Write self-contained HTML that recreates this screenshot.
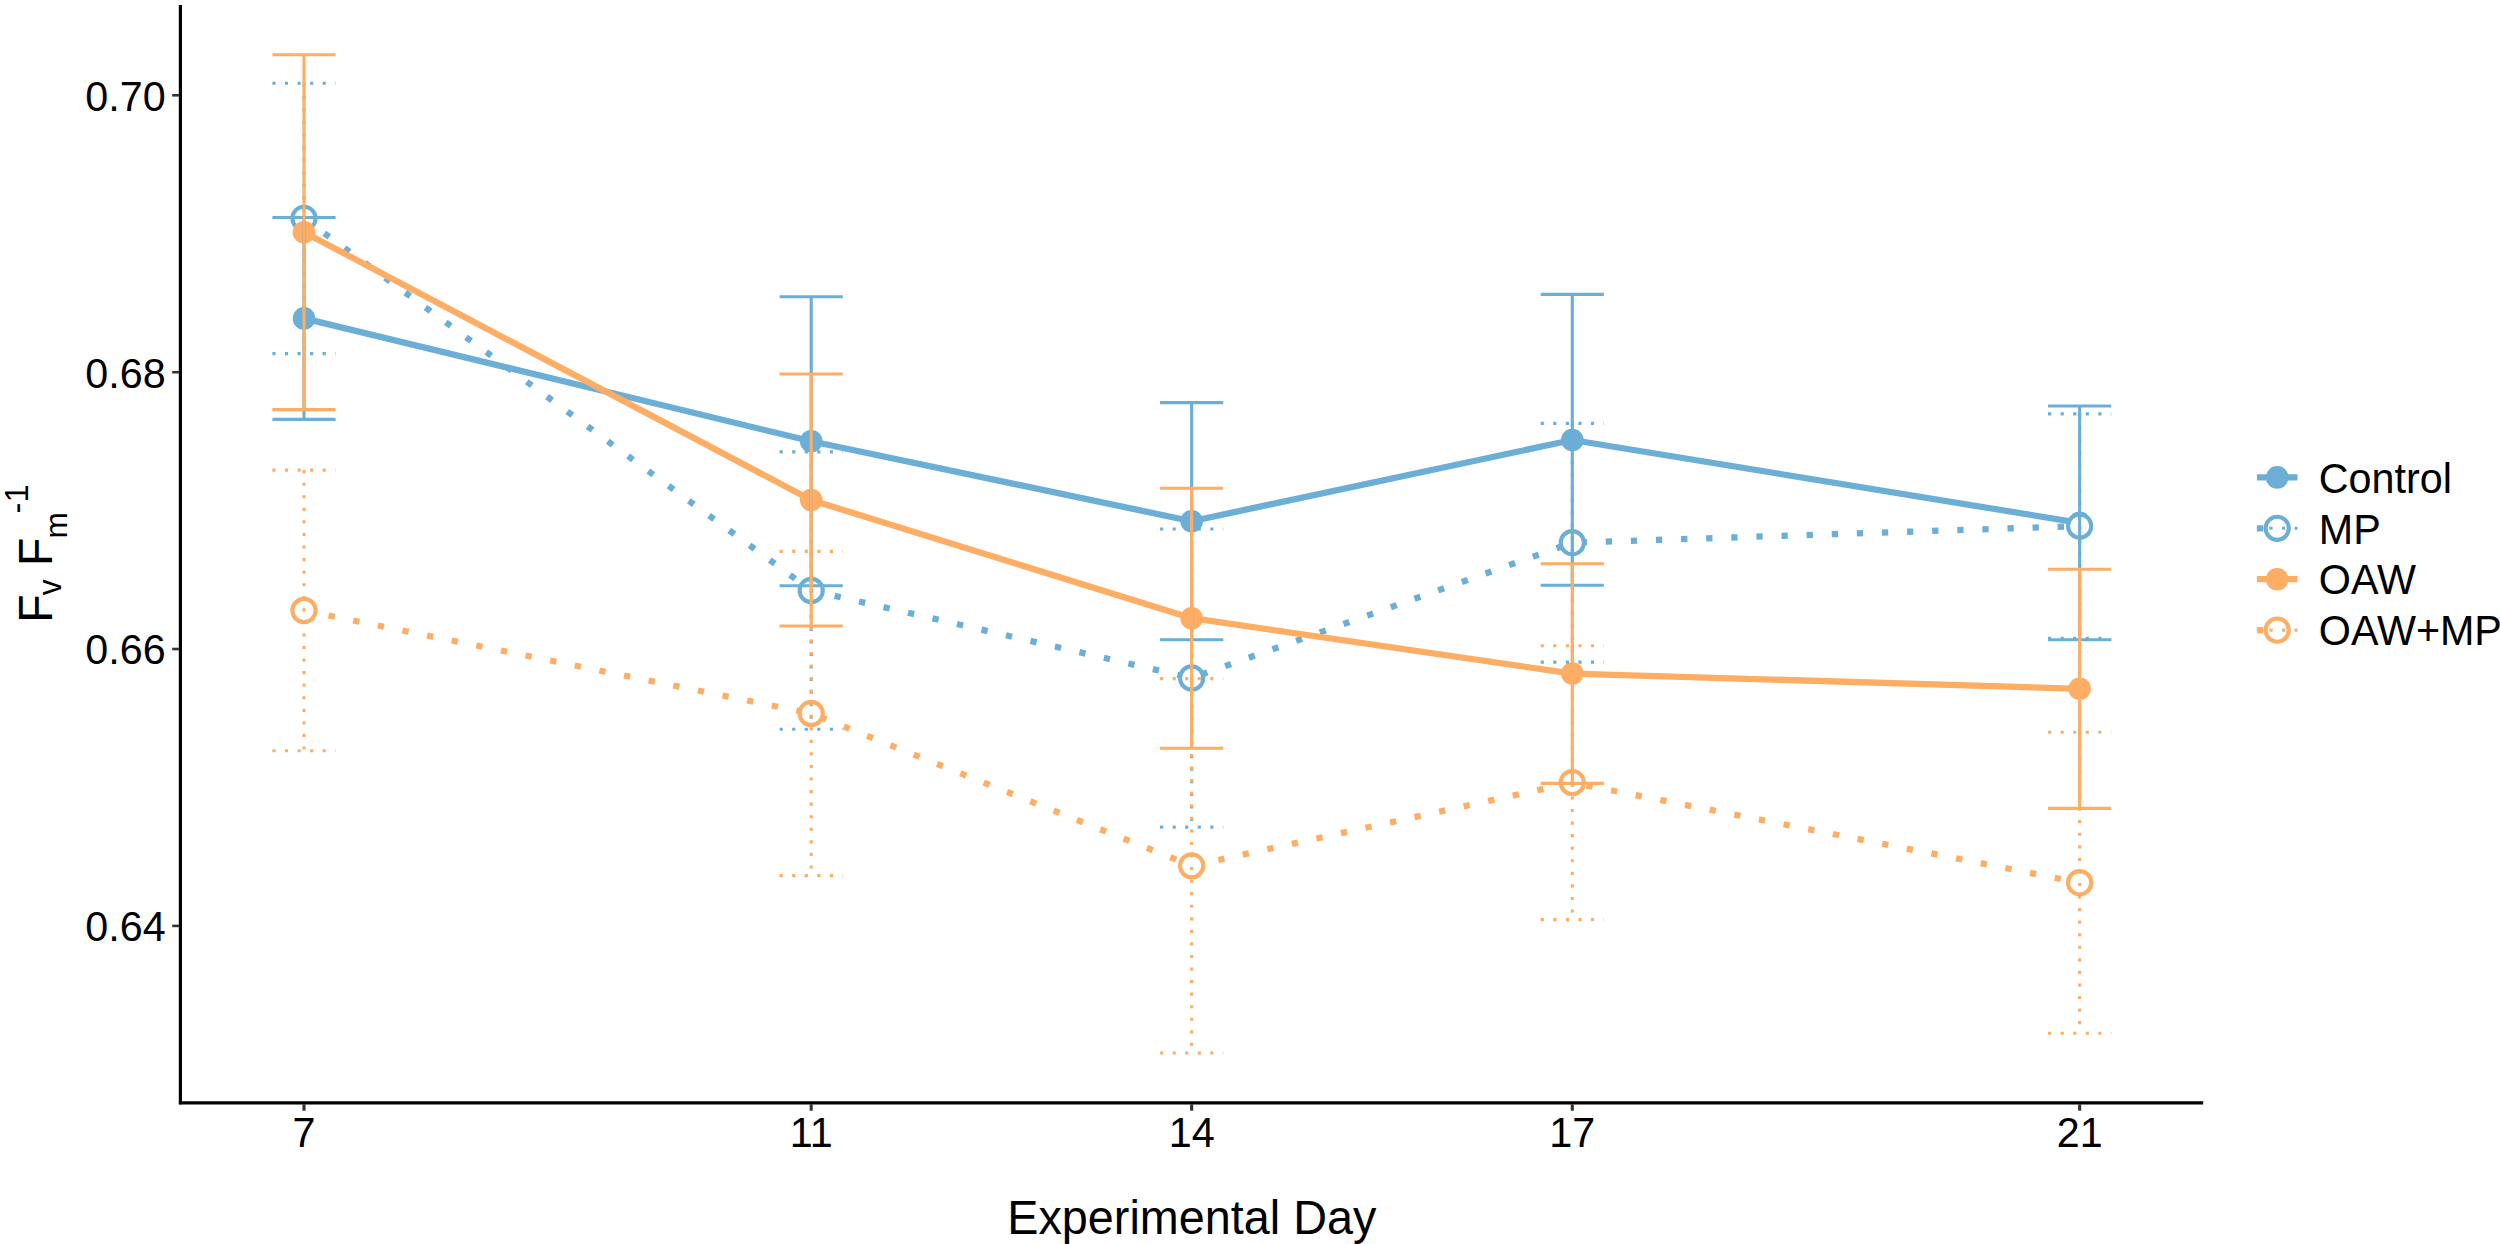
<!DOCTYPE html>
<html lang="en"><head><meta charset="utf-8"><title>Fv/Fm by Experimental Day</title>
<style>html,body{margin:0;padding:0;background:#fff}svg{display:block}text{font-family:"Liberation Sans",Arial,Helvetica,sans-serif;fill:#000}</style></head><body>
<svg width="2500" height="1244" viewBox="0 0 2500 1244">
<rect width="2500" height="1244" fill="#fff"/>
<g fill="none" stroke-width="6.28" stroke-linejoin="round">
<polyline points="304.00,318.4 811.20,441.3 1191.65,521.2 1572.30,440.0 2079.65,522.9" stroke="#6BAED6"/>
<polyline points="304.00,218.3 811.20,590.5 1191.65,678.0 1572.30,542.7 2079.65,526.1" stroke="#6BAED6" stroke-dasharray="6.28 18.84"/>
<polyline points="304.00,232.2 811.20,500.0 1191.65,618.2 1572.30,673.6 2079.65,688.8" stroke="#FDAD64"/>
<polyline points="304.00,610.5 811.20,713.5 1191.65,865.8 1572.30,782.6 2079.65,882.7" stroke="#FDAD64" stroke-dasharray="6.28 18.84"/>
</g>
<g>
<circle cx="304.00" cy="318.4" r="11.3" fill="#6BAED6"/>
<circle cx="304.00" cy="218.3" r="11.6" fill="#fff" stroke="#6BAED6" stroke-width="4.1"/>
<circle cx="304.00" cy="232.2" r="11.3" fill="#FDAD64"/>
<circle cx="304.00" cy="610.5" r="11.6" fill="#fff" stroke="#FDAD64" stroke-width="4.1"/>
<circle cx="811.20" cy="441.3" r="11.3" fill="#6BAED6"/>
<circle cx="811.20" cy="590.5" r="11.6" fill="#fff" stroke="#6BAED6" stroke-width="4.1"/>
<circle cx="811.20" cy="500.0" r="11.3" fill="#FDAD64"/>
<circle cx="811.20" cy="713.5" r="11.6" fill="#fff" stroke="#FDAD64" stroke-width="4.1"/>
<circle cx="1191.65" cy="521.2" r="11.3" fill="#6BAED6"/>
<circle cx="1191.65" cy="678.0" r="11.6" fill="#fff" stroke="#6BAED6" stroke-width="4.1"/>
<circle cx="1191.65" cy="618.2" r="11.3" fill="#FDAD64"/>
<circle cx="1191.65" cy="865.8" r="11.6" fill="#fff" stroke="#FDAD64" stroke-width="4.1"/>
<circle cx="1572.30" cy="440.0" r="11.3" fill="#6BAED6"/>
<circle cx="1572.30" cy="542.7" r="11.6" fill="#fff" stroke="#6BAED6" stroke-width="4.1"/>
<circle cx="1572.30" cy="673.6" r="11.3" fill="#FDAD64"/>
<circle cx="1572.30" cy="782.6" r="11.6" fill="#fff" stroke="#FDAD64" stroke-width="4.1"/>
<circle cx="2079.65" cy="522.9" r="11.3" fill="#6BAED6"/>
<circle cx="2079.65" cy="526.1" r="11.6" fill="#fff" stroke="#6BAED6" stroke-width="4.1"/>
<circle cx="2079.65" cy="688.8" r="11.3" fill="#FDAD64"/>
<circle cx="2079.65" cy="882.7" r="11.6" fill="#fff" stroke="#FDAD64" stroke-width="4.1"/>
</g>
<g fill="none" stroke-width="3.14">
<path d="M272.40 217.5H335.60M304.00 217.5V419.4M272.40 419.4H335.60" stroke="#6BAED6"/>
<path d="M779.60 296.8H842.80M811.20 296.8V585.7M779.60 585.7H842.80" stroke="#6BAED6"/>
<path d="M1160.05 402.6H1223.25M1191.65 402.6V639.8M1160.05 639.8H1223.25" stroke="#6BAED6"/>
<path d="M1540.70 294.4H1603.90M1572.30 294.4V585.3M1540.70 585.3H1603.90" stroke="#6BAED6"/>
<path d="M2048.05 406.0H2111.25M2079.65 406.0V639.7M2048.05 639.7H2111.25" stroke="#6BAED6"/>
<path d="M272.40 83.3H335.60M304.00 83.3V353.6M272.40 353.6H335.60" stroke="#6BAED6" stroke-dasharray="3.14 9.42"/>
<path d="M779.60 451.9H842.80M811.20 451.9V729.3M779.60 729.3H842.80" stroke="#6BAED6" stroke-dasharray="3.14 9.42"/>
<path d="M1160.05 529.0H1223.25M1191.65 529.0V827.1M1160.05 827.1H1223.25" stroke="#6BAED6" stroke-dasharray="3.14 9.42"/>
<path d="M1540.70 423.4H1603.90M1572.30 423.4V662.1M1540.70 662.1H1603.90" stroke="#6BAED6" stroke-dasharray="3.14 9.42"/>
<path d="M2048.05 413.9H2111.25M2079.65 413.9V638.3M2048.05 638.3H2111.25" stroke="#6BAED6" stroke-dasharray="3.14 9.42"/>
<path d="M272.40 54.7H335.60M304.00 54.7V409.6M272.40 409.6H335.60" stroke="#FDAD64"/>
<path d="M779.60 374.0H842.80M811.20 374.0V626.0M779.60 626.0H842.80" stroke="#FDAD64"/>
<path d="M1160.05 488.2H1223.25M1191.65 488.2V748.3M1160.05 748.3H1223.25" stroke="#FDAD64"/>
<path d="M1540.70 563.7H1603.90M1572.30 563.7V783.4M1540.70 783.4H1603.90" stroke="#FDAD64"/>
<path d="M2048.05 569.2H2111.25M2079.65 569.2V808.4M2048.05 808.4H2111.25" stroke="#FDAD64"/>
<path d="M272.40 470.1H335.60M304.00 470.1V750.8M272.40 750.8H335.60" stroke="#FDAD64" stroke-dasharray="3.14 9.42"/>
<path d="M779.60 551.4H842.80M811.20 551.4V875.6M779.60 875.6H842.80" stroke="#FDAD64" stroke-dasharray="3.14 9.42"/>
<path d="M1160.05 678.6H1223.25M1191.65 678.6V1053.0M1160.05 1053.0H1223.25" stroke="#FDAD64" stroke-dasharray="3.14 9.42"/>
<path d="M1540.70 645.7H1603.90M1572.30 645.7V919.6M1540.70 919.6H1603.90" stroke="#FDAD64" stroke-dasharray="3.14 9.42"/>
<path d="M2048.05 732.2H2111.25M2079.65 732.2V1033.3M2048.05 1033.3H2111.25" stroke="#FDAD64" stroke-dasharray="3.14 9.42"/>
</g>
<g stroke="#000" stroke-width="3.2" fill="none"><path d="M180.4 5V1104.30"/><path d="M178.90 1102.8H2203.2"/></g>
<g stroke="#333" stroke-width="3.1">
<path d="M172.2 95.3H178.90" stroke-width="2.6"/>
<path d="M172.2 372.2H178.90" stroke-width="2.6"/>
<path d="M172.2 649.0H178.90" stroke-width="2.6"/>
<path d="M172.2 925.9H178.90" stroke-width="2.6"/>
<path d="M304.00 1104.30V1110.7"/>
<path d="M811.20 1104.30V1110.7"/>
<path d="M1191.65 1104.30V1110.7"/>
<path d="M1572.30 1104.30V1110.7"/>
<path d="M2079.65 1104.30V1110.7"/>
</g>
<text transform="translate(165.6 110.6) scale(1 1.045)" font-size="41.3" text-anchor="end">0.70</text>
<text transform="translate(165.6 387.5) scale(1 1.045)" font-size="41.3" text-anchor="end">0.68</text>
<text transform="translate(165.6 664.3) scale(1 1.045)" font-size="41.3" text-anchor="end">0.66</text>
<text transform="translate(165.6 941.2) scale(1 1.045)" font-size="41.3" text-anchor="end">0.64</text>
<text transform="translate(304.0 1147.1) scale(1 1.035)" font-size="41.3" text-anchor="middle">7</text>
<text transform="translate(811.2 1147.1) scale(1 1.035)" font-size="41.3" text-anchor="middle">11</text>
<text transform="translate(1191.7 1147.1) scale(1 1.035)" font-size="41.3" text-anchor="middle">14</text>
<text transform="translate(1572.3 1147.1) scale(1 1.035)" font-size="41.3" text-anchor="middle">17</text>
<text transform="translate(2079.7 1147.1) scale(1 1.035)" font-size="41.3" text-anchor="middle">21</text>
<text transform="translate(1191.8 1233.6) scale(1 1.025)" font-size="46.8" text-anchor="middle">Experimental Day</text>
<g transform="rotate(-90)">
<text transform="translate(-622.7 51.9) scale(1 1.05)" font-size="46.5">F</text>
<text transform="translate(-595.2 61.4) scale(1 1.04)" font-size="31.5">v</text>
<text transform="translate(-566.0 51.9) scale(1 1.05)" font-size="46.5">F</text>
<text transform="translate(-538.6 67.3) scale(1 1)" font-size="31.7">m</text>
<text transform="translate(-513.4 27.7) scale(1 1.04)" font-size="32.5">-1</text>
</g>
<g>
<path d="M2256.9 477.4H2297.5" stroke="#6BAED6" stroke-width="6.28"/>
<circle cx="2277.2" cy="477.4" r="11.3" fill="#6BAED6"/>
<text transform="translate(2318.8 492.8) scale(1 1.025)" font-size="41.3">Control</text>
<path d="M2256.9 528.3H2297.5" stroke="#6BAED6" stroke-width="6.28" stroke-dasharray="6.28 18.84"/>
<circle cx="2277.2" cy="528.3" r="11.6" fill="#fff" stroke="#6BAED6" stroke-width="4.1"/>
<path d="M2256.9 528.3H2297.5" stroke="#6BAED6" stroke-width="3.14" stroke-dasharray="3.14 9.42"/>
<text transform="translate(2318.8 543.5) scale(1 1.03)" font-size="41.3">MP</text>
<path d="M2256.9 579.2H2297.5" stroke="#FDAD64" stroke-width="6.28"/>
<circle cx="2277.2" cy="579.2" r="11.3" fill="#FDAD64"/>
<text transform="translate(2318.8 594.4) scale(1 1.03)" font-size="41.3">OAW</text>
<path d="M2256.9 630.1H2297.5" stroke="#FDAD64" stroke-width="6.28" stroke-dasharray="6.28 18.84"/>
<circle cx="2277.2" cy="630.1" r="11.6" fill="#fff" stroke="#FDAD64" stroke-width="4.1"/>
<path d="M2256.9 630.1H2297.5" stroke="#FDAD64" stroke-width="3.14" stroke-dasharray="3.14 9.42"/>
<text transform="translate(2318.8 645.3) scale(1 1.03)" font-size="41.3">OAW+MP</text>
</g>
</svg></body></html>
